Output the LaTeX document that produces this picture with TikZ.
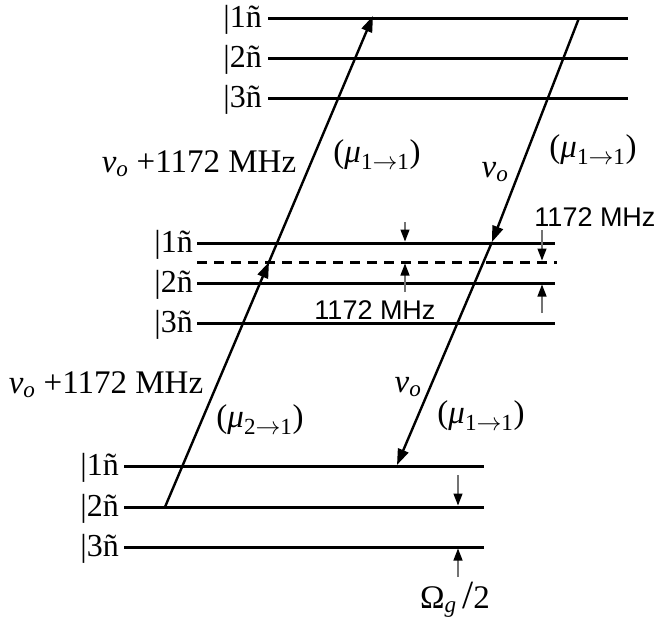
\documentclass[tikz,border=0pt]{standalone}
\usepackage{fontspec}
\setmainfont{Liberation Serif}
\newfontfamily\arialfont{Liberation Sans}
\usetikzlibrary{arrows.meta}

\begin{document}
\begin{tikzpicture}[x=1pt, y=-1pt,
    level/.style={line width=3pt},
    trans/.style={line width=2.4pt, -{Triangle[length=16pt,width=11pt]}},
    gap/.style={draw=black!55, line width=1.3pt, -{Triangle[length=12pt,width=9pt,black]}},
    ket/.style={anchor=east, inner sep=0pt, font=\fontsize{32}{34}\selectfont},
    lbl/.style={inner sep=0pt, font=\fontsize{33}{35}\selectfont},
    mhz/.style={inner sep=0pt, font=\arialfont\fontsize{27}{29}\selectfont}]
  \useasboundingbox (0,0) rectangle (657,622);

  % three groups of levels
  \foreach \y/\n in {18/1, 58/2, 98/3} {
    \coordinate (ta\n) at (268,\y);
    \coordinate (tb\n) at (628,\y);
    \node[ket] (tk\n) at (262,\y+2) {|\n ñ};
    \draw[level] (ta\n) -- (tb\n);
  }
  \foreach \y/\n in {243/1, 283/2, 323/3} {
    \coordinate (ma\n) at (197,\y);
    \coordinate (mb\n) at (555,\y);
    \node[ket] (mk\n) at (193,\y+2) {|\n ñ};
    \draw[level] (ma\n) -- (mb\n);
  }
  \foreach \y/\n in {466/1, 507/2, 547/3} {
    \coordinate (ba\n) at (124,\y);
    \coordinate (bb\n) at (484,\y);
    \node[ket] (bk\n) at (119,\y+2) {|\n ñ};
    \draw[level] (ba\n) -- (bb\n);
  }
  \coordinate (da) at (197,262);
  \coordinate (db) at (557,262);
  \draw[level, dash pattern=on 10pt off 7pt] (da) -- (db);

  % transitions
  \coordinate (u0) at (165,507);
  \coordinate (u1) at (269,262);
  \coordinate (u2) at (373,16);
  \coordinate (d0) at (579,18);
  \coordinate (d1) at (492,242);
  \coordinate (d2) at (397,465);
  \draw[trans] (u0) -- (u1);
  \draw[trans] (u1) -- (u2);
  \draw[trans] (d0) -- (d1);
  \draw[trans] (d1) -- (d2);

  % splittings
  \coordinate (g1) at (405,222);
  \coordinate (g2) at (405,292);
  \coordinate (g3) at (542,230);
  \coordinate (g4) at (542,313);
  \coordinate (g5) at (458,475);
  \coordinate (g6) at (458,577);
  \draw[gap] (g1) -- (405,241.5);
  \draw[gap] (g2) -- (405,263.5);
  \draw[gap] (g3) -- (542,260.5);
  \draw[gap] (g4) -- (542,284.5);
  \draw[gap] (g5) -- (458,505.5);
  \draw[gap] (g6) -- (458,548.5);

  % labels
  \node[lbl] (f1) at (199,164) {\textit{ν}\textsubscript{\textit{o}} +1172 MHz};
  \node[lbl] (m1) at (377,155) {(\textit{μ}\textsubscript{1$\rightarrow$1})};
  \node[lbl] (f2) at (495,172) {\textit{ν}\textsubscript{\textit{o}}};
  \node[lbl] (m2) at (593,150) {(\textit{μ}\textsubscript{1$\rightarrow$1})};
  \node[mhz] (s1) at (595,217) {1172 MHz};
  \node[mhz] (s2) at (375,310) {1172 MHz};
  \node[lbl] (f3) at (106,385) {\textit{ν}\textsubscript{\textit{o}} +1172 MHz};
  \node[lbl] (m3) at (260,420) {(\textit{μ}\textsubscript{2$\rightarrow$1})};
  \node[lbl] (f4) at (408,387) {\textit{ν}\textsubscript{\textit{o}}};
  \node[lbl] (m4) at (481,416) {(\textit{μ}\textsubscript{1$\rightarrow$1})};
  \node[lbl] (om) at (455,600) {Ω\textsubscript{\textit{g}}\,{\fontsize{40}{42}\selectfont /}2};
\end{tikzpicture}
\end{document}
